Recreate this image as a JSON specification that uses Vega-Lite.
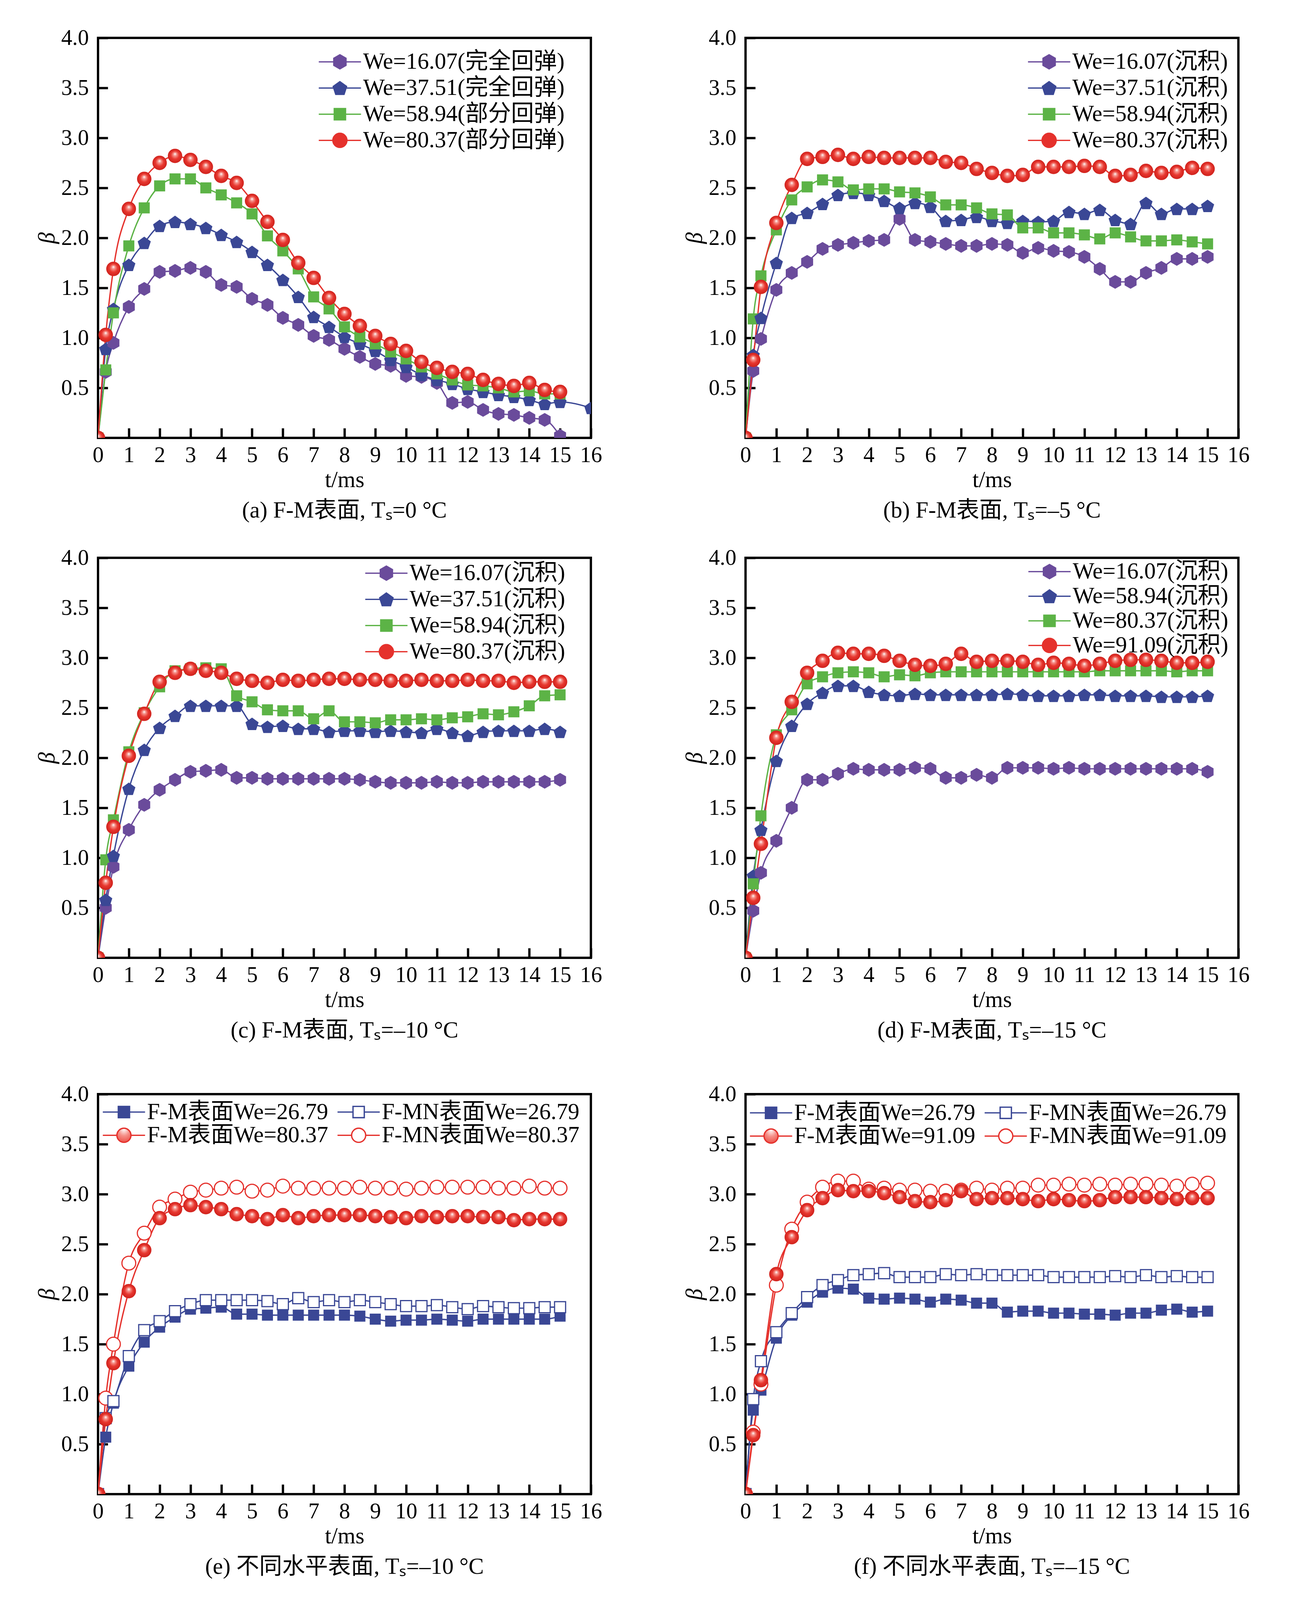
{
  "$schema": "https://vega.github.io/schema/vega-lite/v6.json",
  "background": "white",
  "padding": {"left": 88, "top": 66, "right": 69, "bottom": 20},
  "datasets": {
    "a": [
      {"t":0,"p":0,"b":0,"g":0,"r":0},
      {"t":0.25,"p":0.66,"b":0.89,"g":0.68,"r":1.03},
      {"t":0.5,"p":0.95,"b":1.29,"g":1.25,"r":1.69},
      {"t":1,"p":1.31,"b":1.73,"g":1.92,"r":2.29},
      {"t":1.5,"p":1.49,"b":1.95,"g":2.30,"r":2.59},
      {"t":2,"p":1.66,"b":2.12,"g":2.52,"r":2.75},
      {"t":2.5,"p":1.67,"b":2.16,"g":2.59,"r":2.82},
      {"t":3,"p":1.70,"b":2.14,"g":2.59,"r":2.78},
      {"t":3.5,"p":1.66,"b":2.10,"g":2.50,"r":2.71},
      {"t":4,"p":1.53,"b":2.03,"g":2.43,"r":2.62},
      {"t":4.5,"p":1.51,"b":1.96,"g":2.35,"r":2.55},
      {"t":5,"p":1.39,"b":1.86,"g":2.24,"r":2.37},
      {"t":5.5,"p":1.33,"b":1.73,"g":2.02,"r":2.16},
      {"t":6,"p":1.20,"b":1.58,"g":1.87,"r":1.98},
      {"t":6.5,"p":1.13,"b":1.41,"g":1.69,"r":1.75},
      {"t":7,"p":1.02,"b":1.21,"g":1.41,"r":1.60},
      {"t":7.5,"p":0.98,"b":1.11,"g":1.29,"r":1.40},
      {"t":8,"p":0.89,"b":1.01,"g":1.11,"r":1.24},
      {"t":8.5,"p":0.81,"b":0.94,"g":1.01,"r":1.12},
      {"t":9,"p":0.74,"b":0.87,"g":0.94,"r":1.02},
      {"t":9.5,"p":0.72,"b":0.78,"g":0.86,"r":0.94},
      {"t":10,"p":0.62,"b":0.71,"g":0.79,"r":0.87},
      {"t":10.5,"p":0.61,"b":0.63,"g":0.71,"r":0.76},
      {"t":11,"p":0.55,"b":0.58,"g":0.64,"r":0.70},
      {"t":11.5,"p":0.35,"b":0.54,"g":0.58,"r":0.66},
      {"t":12,"p":0.36,"b":0.49,"g":0.53,"r":0.64},
      {"t":12.5,"p":0.28,"b":0.46,"g":0.52,"r":0.58},
      {"t":13,"p":0.24,"b":0.43,"g":0.50,"r":0.54},
      {"t":13.5,"p":0.23,"b":0.41,"g":0.46,"r":0.52},
      {"t":14,"p":0.20,"b":0.38,"g":0.47,"r":0.55},
      {"t":14.5,"p":0.18,"b":0.34,"g":0.44,"r":0.48},
      {"t":15,"p":0.02,"b":0.36,"g":0.44,"r":0.46},
      {"t":16,"b":0.30}
    ],
    "b": [
      {"t":0,"p":0,"b":0,"g":0,"r":0},
      {"t":0.25,"p":0.67,"b":0.83,"g":1.19,"r":0.78},
      {"t":0.5,"p":0.99,"b":1.20,"g":1.62,"r":1.51},
      {"t":1,"p":1.48,"b":1.75,"g":2.08,"r":2.15},
      {"t":1.5,"p":1.65,"b":2.20,"g":2.38,"r":2.53},
      {"t":2,"p":1.76,"b":2.25,"g":2.51,"r":2.79},
      {"t":2.5,"p":1.89,"b":2.34,"g":2.58,"r":2.81},
      {"t":3,"p":1.93,"b":2.43,"g":2.56,"r":2.83},
      {"t":3.5,"p":1.95,"b":2.45,"g":2.48,"r":2.79},
      {"t":4,"p":1.97,"b":2.43,"g":2.49,"r":2.81},
      {"t":4.5,"p":1.98,"b":2.37,"g":2.49,"r":2.80},
      {"t":5,"p":2.19,"b":2.30,"g":2.46,"r":2.80},
      {"t":5.5,"p":1.98,"b":2.35,"g":2.45,"r":2.80},
      {"t":6,"p":1.96,"b":2.31,"g":2.41,"r":2.80},
      {"t":6.5,"p":1.94,"b":2.17,"g":2.33,"r":2.76},
      {"t":7,"p":1.92,"b":2.18,"g":2.33,"r":2.75},
      {"t":7.5,"p":1.92,"b":2.21,"g":2.30,"r":2.69},
      {"t":8,"p":1.94,"b":2.17,"g":2.24,"r":2.65},
      {"t":8.5,"p":1.93,"b":2.15,"g":2.23,"r":2.62},
      {"t":9,"p":1.85,"b":2.17,"g":2.10,"r":2.63},
      {"t":9.5,"p":1.90,"b":2.16,"g":2.10,"r":2.71},
      {"t":10,"p":1.87,"b":2.17,"g":2.05,"r":2.71},
      {"t":10.5,"p":1.86,"b":2.26,"g":2.05,"r":2.71},
      {"t":11,"p":1.81,"b":2.24,"g":2.03,"r":2.72},
      {"t":11.5,"p":1.69,"b":2.28,"g":1.99,"r":2.71},
      {"t":12,"p":1.56,"b":2.18,"g":2.05,"r":2.62},
      {"t":12.5,"p":1.56,"b":2.14,"g":2.01,"r":2.63},
      {"t":13,"p":1.65,"b":2.35,"g":1.97,"r":2.67},
      {"t":13.5,"p":1.70,"b":2.24,"g":1.97,"r":2.65},
      {"t":14,"p":1.79,"b":2.29,"g":1.98,"r":2.66},
      {"t":14.5,"p":1.79,"b":2.29,"g":1.96,"r":2.70},
      {"t":15,"p":1.81,"b":2.32,"g":1.94,"r":2.69}
    ],
    "c": [
      {"t":0,"p":0,"b":0,"g":0,"r":0},
      {"t":0.25,"p":0.50,"b":0.58,"g":0.98,"r":0.75},
      {"t":0.5,"p":0.91,"b":1.02,"g":1.38,"r":1.31},
      {"t":1,"p":1.28,"b":1.69,"g":2.06,"r":2.02},
      {"t":1.5,"p":1.53,"b":2.08,"g":2.45,"r":2.44},
      {"t":2,"p":1.68,"b":2.30,"g":2.71,"r":2.76},
      {"t":2.5,"p":1.78,"b":2.42,"g":2.87,"r":2.85},
      {"t":3,"p":1.86,"b":2.52,"g":2.89,"r":2.89},
      {"t":3.5,"p":1.87,"b":2.52,"g":2.90,"r":2.87},
      {"t":4,"p":1.88,"b":2.52,"g":2.89,"r":2.85},
      {"t":4.5,"p":1.80,"b":2.52,"g":2.62,"r":2.79},
      {"t":5,"p":1.80,"b":2.34,"g":2.56,"r":2.77},
      {"t":5.5,"p":1.79,"b":2.31,"g":2.48,"r":2.75},
      {"t":6,"p":1.79,"b":2.32,"g":2.47,"r":2.78},
      {"t":6.5,"p":1.79,"b":2.29,"g":2.47,"r":2.77},
      {"t":7,"p":1.79,"b":2.29,"g":2.39,"r":2.78},
      {"t":7.5,"p":1.79,"b":2.26,"g":2.47,"r":2.79},
      {"t":8,"p":1.79,"b":2.27,"g":2.36,"r":2.79},
      {"t":8.5,"p":1.78,"b":2.27,"g":2.36,"r":2.78},
      {"t":9,"p":1.76,"b":2.26,"g":2.35,"r":2.78},
      {"t":9.5,"p":1.75,"b":2.27,"g":2.38,"r":2.77},
      {"t":10,"p":1.75,"b":2.26,"g":2.38,"r":2.77},
      {"t":10.5,"p":1.75,"b":2.25,"g":2.39,"r":2.78},
      {"t":11,"p":1.76,"b":2.29,"g":2.38,"r":2.77},
      {"t":11.5,"p":1.75,"b":2.25,"g":2.40,"r":2.77},
      {"t":12,"p":1.75,"b":2.22,"g":2.41,"r":2.78},
      {"t":12.5,"p":1.76,"b":2.26,"g":2.44,"r":2.77},
      {"t":13,"p":1.76,"b":2.27,"g":2.43,"r":2.77},
      {"t":13.5,"p":1.76,"b":2.27,"g":2.46,"r":2.75},
      {"t":14,"p":1.76,"b":2.27,"g":2.52,"r":2.76},
      {"t":14.5,"p":1.76,"b":2.29,"g":2.62,"r":2.76},
      {"t":15,"p":1.78,"b":2.26,"g":2.63,"r":2.76}
    ],
    "d": [
      {"t":0,"p":0,"b":0,"g":0,"r":0},
      {"t":0.25,"p":0.47,"b":0.82,"g":0.74,"r":0.60},
      {"t":0.5,"p":0.85,"b":1.28,"g":1.42,"r":1.14},
      {"t":1,"p":1.17,"b":1.97,"g":2.23,"r":2.20},
      {"t":1.5,"p":1.50,"b":2.32,"g":2.48,"r":2.56},
      {"t":2,"p":1.78,"b":2.54,"g":2.74,"r":2.85},
      {"t":2.5,"p":1.78,"b":2.65,"g":2.81,"r":2.97},
      {"t":3,"p":1.84,"b":2.72,"g":2.85,"r":3.05},
      {"t":3.5,"p":1.89,"b":2.72,"g":2.86,"r":3.04},
      {"t":4,"p":1.88,"b":2.66,"g":2.85,"r":3.04},
      {"t":4.5,"p":1.88,"b":2.63,"g":2.81,"r":3.02},
      {"t":5,"p":1.88,"b":2.62,"g":2.83,"r":2.97},
      {"t":5.5,"p":1.90,"b":2.64,"g":2.82,"r":2.93},
      {"t":6,"p":1.89,"b":2.63,"g":2.85,"r":2.92},
      {"t":6.5,"p":1.80,"b":2.63,"g":2.86,"r":2.94},
      {"t":7,"p":1.80,"b":2.63,"g":2.86,"r":3.04},
      {"t":7.5,"p":1.83,"b":2.63,"g":2.86,"r":2.96},
      {"t":8,"p":1.80,"b":2.63,"g":2.86,"r":2.97},
      {"t":8.5,"p":1.90,"b":2.64,"g":2.86,"r":2.97},
      {"t":9,"p":1.90,"b":2.63,"g":2.86,"r":2.96},
      {"t":9.5,"p":1.90,"b":2.62,"g":2.86,"r":2.93},
      {"t":10,"p":1.89,"b":2.62,"g":2.86,"r":2.95},
      {"t":10.5,"p":1.90,"b":2.62,"g":2.86,"r":2.94},
      {"t":11,"p":1.89,"b":2.63,"g":2.86,"r":2.92},
      {"t":11.5,"p":1.89,"b":2.63,"g":2.87,"r":2.94},
      {"t":12,"p":1.89,"b":2.62,"g":2.87,"r":2.97},
      {"t":12.5,"p":1.89,"b":2.62,"g":2.87,"r":2.98},
      {"t":13,"p":1.89,"b":2.62,"g":2.87,"r":2.98},
      {"t":13.5,"p":1.89,"b":2.61,"g":2.87,"r":2.97},
      {"t":14,"p":1.89,"b":2.61,"g":2.86,"r":2.95},
      {"t":14.5,"p":1.89,"b":2.61,"g":2.87,"r":2.95},
      {"t":15,"p":1.86,"b":2.62,"g":2.87,"r":2.96}
    ],
    "e": [
      {"t":0,"m1":0,"n1":0,"m2":0,"n2":0},
      {"t":0.25,"m1":0.57,"n1":0.76,"m2":0.75,"n2":0.96},
      {"t":0.5,"m1":0.91,"n1":0.93,"m2":1.31,"n2":1.50},
      {"t":1,"m1":1.28,"n1":1.38,"m2":2.03,"n2":2.31},
      {"t":1.5,"m1":1.52,"n1":1.64,"m2":2.44,"n2":2.61},
      {"t":2,"m1":1.67,"n1":1.73,"m2":2.76,"n2":2.87},
      {"t":2.5,"m1":1.77,"n1":1.83,"m2":2.85,"n2":2.95},
      {"t":3,"m1":1.85,"n1":1.90,"m2":2.89,"n2":3.02},
      {"t":3.5,"m1":1.86,"n1":1.94,"m2":2.87,"n2":3.04},
      {"t":4,"m1":1.87,"n1":1.94,"m2":2.85,"n2":3.06},
      {"t":4.5,"m1":1.80,"n1":1.94,"m2":2.80,"n2":3.07},
      {"t":5,"m1":1.80,"n1":1.94,"m2":2.78,"n2":3.03},
      {"t":5.5,"m1":1.79,"n1":1.93,"m2":2.75,"n2":3.04},
      {"t":6,"m1":1.79,"n1":1.90,"m2":2.79,"n2":3.08},
      {"t":6.5,"m1":1.79,"n1":1.96,"m2":2.76,"n2":3.06},
      {"t":7,"m1":1.79,"n1":1.92,"m2":2.78,"n2":3.06},
      {"t":7.5,"m1":1.79,"n1":1.94,"m2":2.79,"n2":3.06},
      {"t":8,"m1":1.79,"n1":1.92,"m2":2.79,"n2":3.06},
      {"t":8.5,"m1":1.78,"n1":1.94,"m2":2.79,"n2":3.07},
      {"t":9,"m1":1.75,"n1":1.92,"m2":2.78,"n2":3.06},
      {"t":9.5,"m1":1.73,"n1":1.90,"m2":2.77,"n2":3.06},
      {"t":10,"m1":1.74,"n1":1.88,"m2":2.76,"n2":3.05},
      {"t":10.5,"m1":1.74,"n1":1.88,"m2":2.78,"n2":3.06},
      {"t":11,"m1":1.75,"n1":1.89,"m2":2.77,"n2":3.07},
      {"t":11.5,"m1":1.74,"n1":1.87,"m2":2.78,"n2":3.07},
      {"t":12,"m1":1.73,"n1":1.85,"m2":2.78,"n2":3.07},
      {"t":12.5,"m1":1.75,"n1":1.88,"m2":2.77,"n2":3.07},
      {"t":13,"m1":1.75,"n1":1.87,"m2":2.77,"n2":3.06},
      {"t":13.5,"m1":1.75,"n1":1.86,"m2":2.74,"n2":3.06},
      {"t":14,"m1":1.75,"n1":1.86,"m2":2.75,"n2":3.08},
      {"t":14.5,"m1":1.75,"n1":1.87,"m2":2.75,"n2":3.06},
      {"t":15,"m1":1.78,"n1":1.87,"m2":2.75,"n2":3.06}
    ],
    "f": [
      {"t":0,"m1":0,"n1":0,"m2":0,"n2":0},
      {"t":0.25,"m1":0.84,"n1":0.95,"m2":0.59,"n2":0.62},
      {"t":0.5,"m1":1.04,"n1":1.33,"m2":1.14,"n2":1.10},
      {"t":1,"m1":1.56,"n1":1.62,"m2":2.20,"n2":2.09},
      {"t":1.5,"m1":1.79,"n1":1.81,"m2":2.57,"n2":2.65},
      {"t":2,"m1":1.92,"n1":1.97,"m2":2.84,"n2":2.92},
      {"t":2.5,"m1":2.02,"n1":2.09,"m2":2.96,"n2":3.07},
      {"t":3,"m1":2.06,"n1":2.14,"m2":3.04,"n2":3.13},
      {"t":3.5,"m1":2.05,"n1":2.19,"m2":3.03,"n2":3.13},
      {"t":4,"m1":1.96,"n1":2.20,"m2":3.03,"n2":3.05},
      {"t":4.5,"m1":1.95,"n1":2.21,"m2":3.01,"n2":3.06},
      {"t":5,"m1":1.96,"n1":2.17,"m2":2.97,"n2":3.04},
      {"t":5.5,"m1":1.95,"n1":2.17,"m2":2.93,"n2":3.04},
      {"t":6,"m1":1.92,"n1":2.17,"m2":2.92,"n2":3.03},
      {"t":6.5,"m1":1.95,"n1":2.20,"m2":2.94,"n2":3.03},
      {"t":7,"m1":1.94,"n1":2.19,"m2":3.03,"n2":3.04},
      {"t":7.5,"m1":1.91,"n1":2.20,"m2":2.95,"n2":3.06},
      {"t":8,"m1":1.91,"n1":2.19,"m2":2.96,"n2":3.04},
      {"t":8.5,"m1":1.82,"n1":2.19,"m2":2.96,"n2":3.06},
      {"t":9,"m1":1.83,"n1":2.19,"m2":2.95,"n2":3.06},
      {"t":9.5,"m1":1.83,"n1":2.19,"m2":2.93,"n2":3.09},
      {"t":10,"m1":1.81,"n1":2.17,"m2":2.95,"n2":3.09},
      {"t":10.5,"m1":1.81,"n1":2.17,"m2":2.94,"n2":3.10},
      {"t":11,"m1":1.80,"n1":2.17,"m2":2.93,"n2":3.09},
      {"t":11.5,"m1":1.80,"n1":2.17,"m2":2.94,"n2":3.10},
      {"t":12,"m1":1.79,"n1":2.18,"m2":2.97,"n2":3.09},
      {"t":12.5,"m1":1.81,"n1":2.17,"m2":2.97,"n2":3.10},
      {"t":13,"m1":1.81,"n1":2.19,"m2":2.97,"n2":3.10},
      {"t":13.5,"m1":1.84,"n1":2.17,"m2":2.96,"n2":3.09},
      {"t":14,"m1":1.85,"n1":2.18,"m2":2.95,"n2":3.08},
      {"t":14.5,"m1":1.82,"n1":2.17,"m2":2.96,"n2":3.10},
      {"t":15,"m1":1.83,"n1":2.17,"m2":2.96,"n2":3.11}
    ]
  },
  "vconcat": [
    {
      "hconcat": [
        {
          "width": 1262, "height": 1024,
          "data": {"name": "a"},
          "transform": [{"fold": ["p","b","g","r"], "as": ["s","beta"]}, {"filter": "isValid(datum.beta)"}],
          "title": {"text": "(a) F-M表面, Tₛ=0 °C"},
          "encoding": {
            "x": {"field": "t", "type": "quantitative", "scale": {"domain": [0,16], "nice": false}, "axis": {"values": [0,1,2,3,4,5,6,7,8,9,10,11,12,13,14,15,16], "format": "d", "title": "t/ms"}},
            "y": {"field": "beta", "type": "quantitative", "scale": {"domain": [0,4], "nice": false}, "axis": {"values": [0.5,1,1.5,2,2.5,3,3.5,4], "format": ".1f", "title": "β"}}
          },
          "layer": [
            {"mark": {"type": "line", "interpolate": "monotone", "strokeWidth": 3.4, "clip": true},
             "encoding": {"color": {"field": "s", "type": "nominal", "scale": {"domain": ["p","b","g","r"], "range": ["#6a4b9b","#3a4795","#5cb346","#e5312c"]},
               "legend": {"title": null, "orient": "none", "legendX": 556, "legendY": 32, "rowPadding": 7,
                 "labelExpr": "datum.value=='p'?'We=16.07(完全回弹)':datum.value=='b'?'We=37.51(完全回弹)':datum.value=='g'?'We=58.94(部分回弹)':'We=80.37(部分回弹)'",
                 "encode": {"symbols": {"update": {
                   "shape": {"signal": "datum.value=='p'?'M-3,0H-0.866M0.866,0H3M0,-1L0.866,-0.5L0.866,0.5L0,1L-0.866,0.5L-0.866,-0.5Z':datum.value=='b'?'M-3,0H-0.88M0.88,0H3M0,-0.905L0.951,-0.214L0.588,0.904L-0.588,0.904L-0.951,-0.214Z':datum.value=='g'?'M-3,0H-0.8M0.8,0H3M-0.8,-0.8H0.8V0.8H-0.8Z':'M-3,0H-1M1,0H3M-1,0A1,1,0,1,1,1,0A1,1,0,1,1,-1,0Z'"},
                   "fill": [{"test": "datum.value=='r'", "value": {"gradient": "radial", "x1": 0.5, "y1": 0.35, "r1": 0, "x2": 0.5, "y2": 0.5, "r2": 0.5, "stops": [{"offset": 0, "color": "#ffffff"}, {"offset": 0.25, "color": "#f59088"}, {"offset": 0.6, "color": "#e8372f"}, {"offset": 1, "color": "#cf231e"}]}}, {"signal": "datum.value=='p'?'#6a4b9b':datum.value=='b'?'#3a4795':'#5cb346'"}],
                   "stroke": {"signal": "datum.value=='p'?'#6a4b9b':datum.value=='b'?'#3a4795':datum.value=='g'?'#5cb346':'#e5312c'"},
                   "strokeWidth": {"value": 3.4},
                   "opacity": {"value": 1}
                 }}}
               }}}},
            {"transform": [{"filter": "datum.s != 'r'"}],
             "mark": {"type": "point", "filled": true, "opacity": 1, "size": 1250, "clip": true},
             "encoding": {"color": {"field": "s", "type": "nominal"},
               "shape": {"field": "s", "type": "nominal", "scale": {"domain": ["p","b","g"], "range": ["M0,-1L0.866,-0.5L0.866,0.5L0,1L-0.866,0.5L-0.866,-0.5Z","M0,-0.905L0.951,-0.214L0.588,0.904L-0.588,0.904L-0.951,-0.214Z","M-0.8,-0.8H0.8V0.8H-0.8Z"]}, "legend": null}}},
            {"transform": [{"filter": "datum.s == 'r'"}],
             "mark": {"type": "point", "filled": true, "shape": "circle", "opacity": 1, "size": 1250, "clip": true, "stroke": "#d42620", "strokeWidth": 1.5,
               "color": {"gradient": "radial", "x1": 0.5, "y1": 0.35, "r1": 0, "x2": 0.5, "y2": 0.5, "r2": 0.5, "stops": [{"offset": 0, "color": "#ffffff"}, {"offset": 0.25, "color": "#f59088"}, {"offset": 0.6, "color": "#e8372f"}, {"offset": 1, "color": "#cf231e"}]}}}
          ]
        },
        {
          "width": 1262, "height": 1024,
          "data": {"name": "b"},
          "transform": [{"fold": ["p","b","g","r"], "as": ["s","beta"]}, {"filter": "isValid(datum.beta)"}],
          "title": {"text": "(b) F-M表面, Tₛ=–5 °C"},
          "encoding": {
            "x": {"field": "t", "type": "quantitative", "scale": {"domain": [0,16], "nice": false}, "axis": {"values": [0,1,2,3,4,5,6,7,8,9,10,11,12,13,14,15,16], "format": "d", "title": "t/ms"}},
            "y": {"field": "beta", "type": "quantitative", "scale": {"domain": [0,4], "nice": false}, "axis": {"values": [0.5,1,1.5,2,2.5,3,3.5,4], "format": ".1f", "title": "β"}}
          },
          "layer": [
            {"mark": {"type": "line", "interpolate": "monotone", "strokeWidth": 3.4, "clip": true},
             "encoding": {"color": {"field": "s", "type": "nominal", "scale": {"domain": ["p","b","g","r"], "range": ["#6a4b9b","#3a4795","#5cb346","#e5312c"]},
               "legend": {"title": null, "orient": "none", "legendX": 714, "legendY": 32, "rowPadding": 7,
                 "labelExpr": "datum.value=='p'?'We=16.07(沉积)':datum.value=='b'?'We=37.51(沉积)':datum.value=='g'?'We=58.94(沉积)':'We=80.37(沉积)'",
                 "encode": {"symbols": {"update": {
                   "shape": {"signal": "datum.value=='p'?'M-3,0H-0.866M0.866,0H3M0,-1L0.866,-0.5L0.866,0.5L0,1L-0.866,0.5L-0.866,-0.5Z':datum.value=='b'?'M-3,0H-0.88M0.88,0H3M0,-0.905L0.951,-0.214L0.588,0.904L-0.588,0.904L-0.951,-0.214Z':datum.value=='g'?'M-3,0H-0.8M0.8,0H3M-0.8,-0.8H0.8V0.8H-0.8Z':'M-3,0H-1M1,0H3M-1,0A1,1,0,1,1,1,0A1,1,0,1,1,-1,0Z'"},
                   "fill": [{"test": "datum.value=='r'", "value": {"gradient": "radial", "x1": 0.5, "y1": 0.35, "r1": 0, "x2": 0.5, "y2": 0.5, "r2": 0.5, "stops": [{"offset": 0, "color": "#ffffff"}, {"offset": 0.25, "color": "#f59088"}, {"offset": 0.6, "color": "#e8372f"}, {"offset": 1, "color": "#cf231e"}]}}, {"signal": "datum.value=='p'?'#6a4b9b':datum.value=='b'?'#3a4795':'#5cb346'"}],
                   "stroke": {"signal": "datum.value=='p'?'#6a4b9b':datum.value=='b'?'#3a4795':datum.value=='g'?'#5cb346':'#e5312c'"},
                   "strokeWidth": {"value": 3.4},
                   "opacity": {"value": 1}
                 }}}
               }}}},
            {"transform": [{"filter": "datum.s != 'r'"}],
             "mark": {"type": "point", "filled": true, "opacity": 1, "size": 1250, "clip": true},
             "encoding": {"color": {"field": "s", "type": "nominal"},
               "shape": {"field": "s", "type": "nominal", "scale": {"domain": ["p","b","g"], "range": ["M0,-1L0.866,-0.5L0.866,0.5L0,1L-0.866,0.5L-0.866,-0.5Z","M0,-0.905L0.951,-0.214L0.588,0.904L-0.588,0.904L-0.951,-0.214Z","M-0.8,-0.8H0.8V0.8H-0.8Z"]}, "legend": null}}},
            {"transform": [{"filter": "datum.s == 'r'"}],
             "mark": {"type": "point", "filled": true, "shape": "circle", "opacity": 1, "size": 1250, "clip": true, "stroke": "#d42620", "strokeWidth": 1.5,
               "color": {"gradient": "radial", "x1": 0.5, "y1": 0.35, "r1": 0, "x2": 0.5, "y2": 0.5, "r2": 0.5, "stops": [{"offset": 0, "color": "#ffffff"}, {"offset": 0.25, "color": "#f59088"}, {"offset": 0.6, "color": "#e8372f"}, {"offset": 1, "color": "#cf231e"}]}}}
          ]
        }
      ],
      "spacing": 396, "bounds": "flush",
      "resolve": {"scale": {"color": "independent", "shape": "independent", "stroke": "independent"}, "legend": {"color": "independent", "shape": "independent", "stroke": "independent"}}
    },
    {
      "vconcat": [
        {
          "hconcat": [
            {
              "width": 1262, "height": 1024,
              "data": {"name": "c"},
              "transform": [{"fold": ["p","b","g","r"], "as": ["s","beta"]}, {"filter": "isValid(datum.beta)"}],
              "title": {"text": "(c) F-M表面, Tₛ=–10 °C"},
              "encoding": {
                "x": {"field": "t", "type": "quantitative", "scale": {"domain": [0,16], "nice": false}, "axis": {"values": [0,1,2,3,4,5,6,7,8,9,10,11,12,13,14,15,16], "format": "d", "title": "t/ms"}},
                "y": {"field": "beta", "type": "quantitative", "scale": {"domain": [0,4], "nice": false}, "axis": {"values": [0.5,1,1.5,2,2.5,3,3.5,4], "format": ".1f", "title": "β"}}
              },
              "layer": [
                {"mark": {"type": "line", "interpolate": "monotone", "strokeWidth": 3.4, "clip": true},
                 "encoding": {"color": {"field": "s", "type": "nominal", "scale": {"domain": ["p","b","g","r"], "range": ["#6a4b9b","#3a4795","#5cb346","#e5312c"]},
                   "legend": {"title": null, "orient": "none", "legendX": 675, "legendY": 10, "rowPadding": 7,
                     "labelExpr": "datum.value=='p'?'We=16.07(沉积)':datum.value=='b'?'We=37.51(沉积)':datum.value=='g'?'We=58.94(沉积)':'We=80.37(沉积)'",
                     "encode": {"symbols": {"update": {
                       "shape": {"signal": "datum.value=='p'?'M-3,0H-0.866M0.866,0H3M0,-1L0.866,-0.5L0.866,0.5L0,1L-0.866,0.5L-0.866,-0.5Z':datum.value=='b'?'M-3,0H-0.88M0.88,0H3M0,-0.905L0.951,-0.214L0.588,0.904L-0.588,0.904L-0.951,-0.214Z':datum.value=='g'?'M-3,0H-0.8M0.8,0H3M-0.8,-0.8H0.8V0.8H-0.8Z':'M-3,0H-1M1,0H3M-1,0A1,1,0,1,1,1,0A1,1,0,1,1,-1,0Z'"},
                       "fill": [{"test": "datum.value=='r'", "value": {"gradient": "radial", "x1": 0.5, "y1": 0.35, "r1": 0, "x2": 0.5, "y2": 0.5, "r2": 0.5, "stops": [{"offset": 0, "color": "#ffffff"}, {"offset": 0.25, "color": "#f59088"}, {"offset": 0.6, "color": "#e8372f"}, {"offset": 1, "color": "#cf231e"}]}}, {"signal": "datum.value=='p'?'#6a4b9b':datum.value=='b'?'#3a4795':'#5cb346'"}],
                       "stroke": {"signal": "datum.value=='p'?'#6a4b9b':datum.value=='b'?'#3a4795':datum.value=='g'?'#5cb346':'#e5312c'"},
                       "strokeWidth": {"value": 3.4},
                       "opacity": {"value": 1}
                     }}}
                   }}}},
                {"transform": [{"filter": "datum.s != 'r'"}],
                 "mark": {"type": "point", "filled": true, "opacity": 1, "size": 1250, "clip": true},
                 "encoding": {"color": {"field": "s", "type": "nominal"},
                   "shape": {"field": "s", "type": "nominal", "scale": {"domain": ["p","b","g"], "range": ["M0,-1L0.866,-0.5L0.866,0.5L0,1L-0.866,0.5L-0.866,-0.5Z","M0,-0.905L0.951,-0.214L0.588,0.904L-0.588,0.904L-0.951,-0.214Z","M-0.8,-0.8H0.8V0.8H-0.8Z"]}, "legend": null}}},
                {"transform": [{"filter": "datum.s == 'r'"}],
                 "mark": {"type": "point", "filled": true, "shape": "circle", "opacity": 1, "size": 1250, "clip": true, "stroke": "#d42620", "strokeWidth": 1.5,
                   "color": {"gradient": "radial", "x1": 0.5, "y1": 0.35, "r1": 0, "x2": 0.5, "y2": 0.5, "r2": 0.5, "stops": [{"offset": 0, "color": "#ffffff"}, {"offset": 0.25, "color": "#f59088"}, {"offset": 0.6, "color": "#e8372f"}, {"offset": 1, "color": "#cf231e"}]}}}
              ]
            },
            {
              "width": 1262, "height": 1024,
              "data": {"name": "d"},
              "transform": [{"fold": ["p","b","g","r"], "as": ["s","beta"]}, {"filter": "isValid(datum.beta)"}],
              "title": {"text": "(d) F-M表面, Tₛ=–15 °C"},
              "encoding": {
                "x": {"field": "t", "type": "quantitative", "scale": {"domain": [0,16], "nice": false}, "axis": {"values": [0,1,2,3,4,5,6,7,8,9,10,11,12,13,14,15,16], "format": "d", "title": "t/ms"}},
                "y": {"field": "beta", "type": "quantitative", "scale": {"domain": [0,4], "nice": false}, "axis": {"values": [0.5,1,1.5,2,2.5,3,3.5,4], "format": ".1f", "title": "β"}}
              },
              "layer": [
                {"mark": {"type": "line", "interpolate": "monotone", "strokeWidth": 3.4, "clip": true},
                 "encoding": {"color": {"field": "s", "type": "nominal", "scale": {"domain": ["p","b","g","r"], "range": ["#6a4b9b","#3a4795","#5cb346","#e5312c"]},
                   "legend": {"title": null, "orient": "none", "legendX": 715, "legendY": 6, "rowPadding": 3,
                     "labelExpr": "datum.value=='p'?'We=16.07(沉积)':datum.value=='b'?'We=58.94(沉积)':datum.value=='g'?'We=80.37(沉积)':'We=91.09(沉积)'",
                     "encode": {"symbols": {"update": {
                       "shape": {"signal": "datum.value=='p'?'M-3,0H-0.866M0.866,0H3M0,-1L0.866,-0.5L0.866,0.5L0,1L-0.866,0.5L-0.866,-0.5Z':datum.value=='b'?'M-3,0H-0.88M0.88,0H3M0,-0.905L0.951,-0.214L0.588,0.904L-0.588,0.904L-0.951,-0.214Z':datum.value=='g'?'M-3,0H-0.8M0.8,0H3M-0.8,-0.8H0.8V0.8H-0.8Z':'M-3,0H-1M1,0H3M-1,0A1,1,0,1,1,1,0A1,1,0,1,1,-1,0Z'"},
                       "fill": [{"test": "datum.value=='r'", "value": {"gradient": "radial", "x1": 0.5, "y1": 0.35, "r1": 0, "x2": 0.5, "y2": 0.5, "r2": 0.5, "stops": [{"offset": 0, "color": "#ffffff"}, {"offset": 0.25, "color": "#f59088"}, {"offset": 0.6, "color": "#e8372f"}, {"offset": 1, "color": "#cf231e"}]}}, {"signal": "datum.value=='p'?'#6a4b9b':datum.value=='b'?'#3a4795':'#5cb346'"}],
                       "stroke": {"signal": "datum.value=='p'?'#6a4b9b':datum.value=='b'?'#3a4795':datum.value=='g'?'#5cb346':'#e5312c'"},
                       "strokeWidth": {"value": 3.4},
                       "opacity": {"value": 1}
                     }}}
                   }}}},
                {"transform": [{"filter": "datum.s != 'r'"}],
                 "mark": {"type": "point", "filled": true, "opacity": 1, "size": 1250, "clip": true},
                 "encoding": {"color": {"field": "s", "type": "nominal"},
                   "shape": {"field": "s", "type": "nominal", "scale": {"domain": ["p","b","g"], "range": ["M0,-1L0.866,-0.5L0.866,0.5L0,1L-0.866,0.5L-0.866,-0.5Z","M0,-0.905L0.951,-0.214L0.588,0.904L-0.588,0.904L-0.951,-0.214Z","M-0.8,-0.8H0.8V0.8H-0.8Z"]}, "legend": null}}},
                {"transform": [{"filter": "datum.s == 'r'"}],
                 "mark": {"type": "point", "filled": true, "shape": "circle", "opacity": 1, "size": 1250, "clip": true, "stroke": "#d42620", "strokeWidth": 1.5,
                   "color": {"gradient": "radial", "x1": 0.5, "y1": 0.35, "r1": 0, "x2": 0.5, "y2": 0.5, "r2": 0.5, "stops": [{"offset": 0, "color": "#ffffff"}, {"offset": 0.25, "color": "#f59088"}, {"offset": 0.6, "color": "#e8372f"}, {"offset": 1, "color": "#cf231e"}]}}}
              ]
            }
          ],
          "spacing": 396, "bounds": "flush",
          "resolve": {"scale": {"color": "independent", "shape": "independent", "stroke": "independent"}, "legend": {"color": "independent", "shape": "independent", "stroke": "independent"}}
        },
        {
          "hconcat": [
            {
              "width": 1262, "height": 1024,
              "data": {"name": "e"},
              "transform": [{"fold": ["m1","n1","m2","n2"], "as": ["s","beta"]}, {"filter": "isValid(datum.beta)"}],
              "title": {"text": "(e) 不同水平表面, Tₛ=–10 °C"},
              "encoding": {
                "x": {"field": "t", "type": "quantitative", "scale": {"domain": [0,16], "nice": false}, "axis": {"values": [0,1,2,3,4,5,6,7,8,9,10,11,12,13,14,15,16], "format": "d", "title": "t/ms"}},
                "y": {"field": "beta", "type": "quantitative", "scale": {"domain": [0,4], "nice": false}, "axis": {"values": [0.5,1,1.5,2,2.5,3,3.5,4], "format": ".1f", "title": "β"}}
              },
              "layer": [
                {"mark": {"type": "line", "interpolate": "monotone", "strokeWidth": 3.4, "clip": true},
                 "encoding": {"color": {"field": "s", "type": "nominal", "scale": {"domain": ["m1","m2","n1","n2"], "range": ["#3a4795","#e5312c","#3a4795","#e5312c"]},
                   "legend": {"title": null, "orient": "none", "legendX": 3, "legendY": 16, "columns": 2, "columnPadding": 14, "rowPadding": -9,
                     "labelExpr": "datum.value=='m1'?'F-M表面We=26.79':datum.value=='n1'?'F-MN表面We=26.79':datum.value=='m2'?'F-M表面We=80.37':'F-MN表面We=80.37'",
                     "encode": {"symbols": {"update": {
                       "shape": {"signal": "(datum.value=='m1'||datum.value=='n1')?'M-3,0H-0.8M0.8,0H3M-0.8,-0.8H0.8V0.8H-0.8Z':'M-3,0H-1M1,0H3M-1,0A1,1,0,1,1,1,0A1,1,0,1,1,-1,0Z'"},
                       "fill": [{"test": "datum.value=='m2'", "value": {"gradient": "radial", "x1": 0.5, "y1": 0.35, "r1": 0, "x2": 0.5, "y2": 0.5, "r2": 0.5, "stops": [{"offset": 0, "color": "#ffffff"}, {"offset": 0.25, "color": "#f59088"}, {"offset": 0.6, "color": "#e8372f"}, {"offset": 1, "color": "#cf231e"}]}}, {"signal": "datum.value=='m1'?'#3a4795':'#ffffff'"}],
                       "stroke": {"signal": "(datum.value=='m1'||datum.value=='n1')?'#3a4795':'#e5312c'"},
                       "strokeWidth": {"value": 3.4},
                       "opacity": {"value": 1}
                     }}}
                   }}}},
                {"transform": [{"filter": "datum.s == 'm1'"}],
                 "mark": {"type": "point", "filled": true, "opacity": 1, "size": 1250, "clip": true, "color": "#3a4795", "shape": "M-0.8,-0.8H0.8V0.8H-0.8Z"}},
                {"transform": [{"filter": "datum.s == 'n1' || datum.s == 'n2'"}],
                 "mark": {"type": "point", "filled": false, "fill": "#ffffff", "opacity": 1, "size": 1250, "strokeWidth": 3, "clip": true},
                 "encoding": {
                   "stroke": {"field": "s", "type": "nominal", "scale": {"domain": ["n1","n2"], "range": ["#3a4795","#e5312c"]}, "legend": null},
                   "shape": {"field": "s", "type": "nominal", "scale": {"domain": ["n1","n2"], "range": ["M-0.8,-0.8H0.8V0.8H-0.8Z","circle"]}, "legend": null}}},
                {"transform": [{"filter": "datum.s == 'm2'"}],
                 "mark": {"type": "point", "filled": true, "shape": "circle", "opacity": 1, "size": 1250, "clip": true, "stroke": "#d42620", "strokeWidth": 1.5,
                   "color": {"gradient": "radial", "x1": 0.5, "y1": 0.35, "r1": 0, "x2": 0.5, "y2": 0.5, "r2": 0.5, "stops": [{"offset": 0, "color": "#ffffff"}, {"offset": 0.25, "color": "#f59088"}, {"offset": 0.6, "color": "#e8372f"}, {"offset": 1, "color": "#cf231e"}]}}}
              ]
            },
            {
              "width": 1262, "height": 1024,
              "data": {"name": "f"},
              "transform": [{"fold": ["m1","n1","m2","n2"], "as": ["s","beta"]}, {"filter": "isValid(datum.beta)"}],
              "title": {"text": "(f) 不同水平表面, Tₛ=–15 °C"},
              "encoding": {
                "x": {"field": "t", "type": "quantitative", "scale": {"domain": [0,16], "nice": false}, "axis": {"values": [0,1,2,3,4,5,6,7,8,9,10,11,12,13,14,15,16], "format": "d", "title": "t/ms"}},
                "y": {"field": "beta", "type": "quantitative", "scale": {"domain": [0,4], "nice": false}, "axis": {"values": [0.5,1,1.5,2,2.5,3,3.5,4], "format": ".1f", "title": "β"}}
              },
              "layer": [
                {"mark": {"type": "line", "interpolate": "monotone", "strokeWidth": 3.4, "clip": true},
                 "encoding": {"color": {"field": "s", "type": "nominal", "scale": {"domain": ["m1","m2","n1","n2"], "range": ["#3a4795","#e5312c","#3a4795","#e5312c"]},
                   "legend": {"title": null, "orient": "none", "legendX": 2, "legendY": 18, "columns": 2, "columnPadding": 14, "rowPadding": -4,
                     "labelExpr": "datum.value=='m1'?'F-M表面We=26.79':datum.value=='n1'?'F-MN表面We=26.79':datum.value=='m2'?'F-M表面We=91.09':'F-MN表面We=91.09'",
                     "encode": {"symbols": {"update": {
                       "shape": {"signal": "(datum.value=='m1'||datum.value=='n1')?'M-3,0H-0.8M0.8,0H3M-0.8,-0.8H0.8V0.8H-0.8Z':'M-3,0H-1M1,0H3M-1,0A1,1,0,1,1,1,0A1,1,0,1,1,-1,0Z'"},
                       "fill": [{"test": "datum.value=='m2'", "value": {"gradient": "radial", "x1": 0.5, "y1": 0.35, "r1": 0, "x2": 0.5, "y2": 0.5, "r2": 0.5, "stops": [{"offset": 0, "color": "#ffffff"}, {"offset": 0.25, "color": "#f59088"}, {"offset": 0.6, "color": "#e8372f"}, {"offset": 1, "color": "#cf231e"}]}}, {"signal": "datum.value=='m1'?'#3a4795':'#ffffff'"}],
                       "stroke": {"signal": "(datum.value=='m1'||datum.value=='n1')?'#3a4795':'#e5312c'"},
                       "strokeWidth": {"value": 3.4},
                       "opacity": {"value": 1}
                     }}}
                   }}}},
                {"transform": [{"filter": "datum.s == 'm1'"}],
                 "mark": {"type": "point", "filled": true, "opacity": 1, "size": 1250, "clip": true, "color": "#3a4795", "shape": "M-0.8,-0.8H0.8V0.8H-0.8Z"}},
                {"transform": [{"filter": "datum.s == 'n1' || datum.s == 'n2'"}],
                 "mark": {"type": "point", "filled": false, "fill": "#ffffff", "opacity": 1, "size": 1250, "strokeWidth": 3, "clip": true},
                 "encoding": {
                   "stroke": {"field": "s", "type": "nominal", "scale": {"domain": ["n1","n2"], "range": ["#3a4795","#e5312c"]}, "legend": null},
                   "shape": {"field": "s", "type": "nominal", "scale": {"domain": ["n1","n2"], "range": ["M-0.8,-0.8H0.8V0.8H-0.8Z","circle"]}, "legend": null}}},
                {"transform": [{"filter": "datum.s == 'm2'"}],
                 "mark": {"type": "point", "filled": true, "shape": "circle", "opacity": 1, "size": 1250, "clip": true, "stroke": "#d42620", "strokeWidth": 1.5,
                   "color": {"gradient": "radial", "x1": 0.5, "y1": 0.35, "r1": 0, "x2": 0.5, "y2": 0.5, "r2": 0.5, "stops": [{"offset": 0, "color": "#ffffff"}, {"offset": 0.25, "color": "#f59088"}, {"offset": 0.6, "color": "#e8372f"}, {"offset": 1, "color": "#cf231e"}]}}}
              ]
            }
          ],
          "spacing": 396, "bounds": "flush",
          "resolve": {"scale": {"color": "independent", "shape": "independent", "stroke": "independent"}, "legend": {"color": "independent", "shape": "independent", "stroke": "independent"}}
        }
      ],
      "spacing": 98,
      "resolve": {"scale": {"color": "independent", "shape": "independent", "stroke": "independent"}, "legend": {"color": "independent", "shape": "independent", "stroke": "independent"}}
    }
  ],
  "spacing": 56,
  "resolve": {"scale": {"color": "independent", "shape": "independent", "stroke": "independent"}, "legend": {"color": "independent", "shape": "independent", "stroke": "independent"}},
  "config": {
    "font": "Liberation Serif",
    "view": {"stroke": "#000000", "strokeWidth": 5.9},
    "axis": {"domain": false, "grid": false, "tickColor": "#000000", "tickWidth": 5.9, "tickSize": -25, "labelFont": "Liberation Serif", "labelFontSize": 56.7, "labelColor": "#000000", "labelFlush": false, "labelOverlap": false, "titleFont": "Liberation Serif", "titleFontSize": 58.7, "titleFontWeight": "normal", "titleColor": "#000000"},
    "axisX": {"labelPadding": 41, "titlePadding": 7},
    "axisY": {"labelPadding": 49, "titlePadding": 6, "titleFontStyle": "italic"},
    "legend": {"labelFont": "Liberation Serif, Noto Sans CJK SC", "labelFontSize": 58.7, "labelColor": "#000000", "symbolSize": 1300, "symbolOffset": 34, "labelOffset": 30, "rowPadding": 8, "padding": 0, "labelLimit": 0},
    "title": {"orient": "bottom", "font": "Liberation Serif, Noto Sans CJK SC", "fontSize": 58.7, "fontWeight": "normal", "color": "#000000", "offset": 21, "anchor": "middle"}
  }
}
